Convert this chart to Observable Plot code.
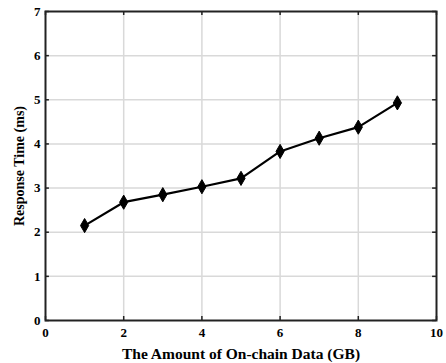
<!DOCTYPE html>
<html><head><meta charset="utf-8">
<script src="https://cdn.jsdelivr.net/npm/d3@7"></script>
<script src="https://cdn.jsdelivr.net/npm/@observablehq/plot@0.6"></script>
<style>
html,body{margin:0;padding:0;background:#fff;}
svg{display:block;}
</style>
</head><body>
<div id="chart"></div>
<script>
const dataSizeGB = [1, 2, 3, 4, 5, 6, 7, 8, 9];
const responseMs = [2.15, 2.68, 2.85, 3.03, 3.22, 3.83, 4.13, 4.38, 4.93];
const xTicks = [0, 2, 4, 6, 8, 10];
const yTicks = [0, 1, 2, 3, 4, 5, 6, 7];
const xLabel = "The Amount of On-chain Data (GB)";
const yLabel = "Response Time (ms)";

const data = dataSizeGB.map((x, i) => ({x, y: responseMs[i]}));

const chart = Plot.plot({
  width: 446,
  height: 363,
  marginLeft: 45,
  marginRight: 10,
  marginTop: 11,
  marginBottom: 43,
  style: {fontFamily: "'Liberation Serif', 'Times New Roman', serif", fontWeight: "bold", fontSize: "13px", background: "#fff", color: "#000"},
  x: {domain: [0, 10]},
  y: {domain: [0, 7]},
  marks: [
    Plot.gridX(xTicks.slice(1, -1), {stroke: "#d9d9d9", strokeOpacity: 1, strokeWidth: 1.5}),
    Plot.gridY(yTicks.slice(1, -1), {stroke: "#d9d9d9", strokeOpacity: 1, strokeWidth: 1.5}),
    Plot.axisX(xTicks, {anchor: "bottom", tickSize: 0, tickPadding: 7, fontSize: 13, fontWeight: "bold", label: null}),
    Plot.axisX({anchor: "bottom", ticks: [], tickSize: 0, fontSize: 15.5, fontWeight: "bold", label: xLabel, labelAnchor: "center", labelArrow: "none", labelOffset: 38, textStretch: 1}),
    Plot.axisY(yTicks, {anchor: "left", tickSize: 0, tickPadding: 5, fontSize: 13, fontWeight: "bold", label: null}),
    Plot.axisY({anchor: "left", ticks: [], tickSize: 0, fontSize: 14, fontWeight: "bold", label: yLabel, labelAnchor: "center", labelArrow: "none", labelOffset: 31}),
    Plot.ruleX(xTicks, {y1: 0, y2: 0.09, stroke: "#222", strokeWidth: 1.5}),
    Plot.ruleX(xTicks, {y1: 7, y2: 6.91, stroke: "#222", strokeWidth: 1.5}),
    Plot.ruleY(yTicks, {x1: 0, x2: 0.1, stroke: "#222", strokeWidth: 1.5}),
    Plot.ruleY(yTicks, {x1: 10, x2: 9.9, stroke: "#222", strokeWidth: 1.5}),
    Plot.frame({stroke: "#222", strokeWidth: 2}),
    Plot.line(data, {x: "x", y: "y", stroke: "#000", strokeWidth: 2.2}),
    Plot.dot(data, {x: "x", y: "y", symbol: "diamond", r: 4.3, fill: "#000", stroke: "#000", strokeWidth: 1})
  ]
});
document.getElementById("chart").appendChild(chart);
</script>
</body></html>
